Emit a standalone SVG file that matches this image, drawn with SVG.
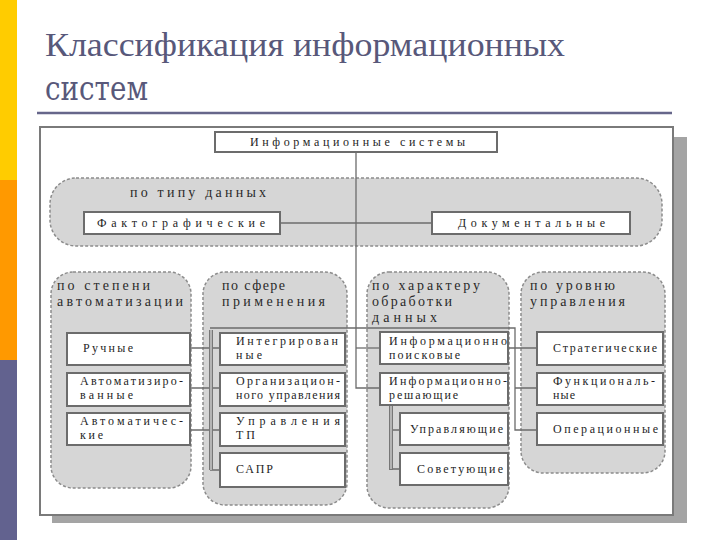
<svg xmlns="http://www.w3.org/2000/svg" width="720" height="540" viewBox="0 0 720 540" font-family="Liberation Serif, DejaVu Serif, serif">
<style>
.title{font-size:34px;fill:#58587a}
.grp{fill:#d6d6d6;stroke:#8c8c8c;stroke-width:1.5;stroke-dasharray:3 2}
.box{fill:#ffffff;stroke:#6c6c6c;stroke-width:2}
.gl{font-size:14px;fill:#2a2a2a}
.bl{font-size:12px;fill:#1e1e1e}
.con{fill:none;stroke:#6c6c6c;stroke-width:1.3}
.dbl{fill:none;stroke:#777;stroke-width:4}
.dbli{fill:none;stroke:#c8c8c8;stroke-width:1.5}
</style>
<rect x="0" y="0" width="720" height="540" fill="#ffffff"/>
<g id="sidebar">
<rect x="0" y="0" width="17" height="180" fill="#ffcc00"/>
<rect x="0" y="180" width="17" height="180" fill="#ff9900"/>
<rect x="0" y="360" width="17" height="180" fill="#62628f"/>
</g>
<g id="title">
<text class="title" x="45" y="56" font-family="Liberation Serif" textLength="520" lengthAdjust="spacingAndGlyphs">Классификация информационных</text>
<text class="title" x="45" y="100" font-family="DejaVu Serif" textLength="103" lengthAdjust="spacingAndGlyphs">систем</text>
<line x1="37" y1="113" x2="672" y2="113" stroke="#66668a" stroke-width="2.5"/>
</g>
<g id="frame">
<rect x="52" y="137" width="635" height="386" fill="#a4a4a4"/>
<rect x="40" y="127" width="633" height="388" fill="#ffffff" stroke="#7a7a7a" stroke-width="2"/>
</g>
<g id="group-type">
<rect class="grp" x="50" y="178" width="612" height="68" rx="26"/>
<text class="gl" x="130" y="197" textLength="136" lengthAdjust="spacing">по типу данных</text>
</g>
<g id="group-auto">
<rect class="grp" x="51" y="272" width="140" height="216" rx="22"/>
<text class="gl" x="57" y="290" textLength="93" lengthAdjust="spacing">по степени</text>
<text class="gl" x="57" y="306" textLength="126" lengthAdjust="spacing">автоматизации</text>
</g>
<g id="group-sphere">
<rect class="grp" x="203" y="272" width="144" height="233" rx="22"/>
<text class="gl" x="222" y="290" textLength="63" lengthAdjust="spacing">по сфере</text>
<text class="gl" x="222" y="306" textLength="103" lengthAdjust="spacing">применения</text>
</g>
<g id="group-proc">
<rect class="grp" x="367" y="272" width="142" height="236" rx="22"/>
<text class="gl" x="372" y="290" textLength="108" lengthAdjust="spacing">по характеру</text>
<text class="gl" x="372" y="306" textLength="80" lengthAdjust="spacing">обработки</text>
<text class="gl" x="372" y="322" textLength="65" lengthAdjust="spacing">данных</text>
</g>
<g id="group-level">
<rect class="grp" x="521" y="272" width="144" height="201" rx="22"/>
<text class="gl" x="530" y="290" textLength="85" lengthAdjust="spacing">по уровню</text>
<text class="gl" x="530" y="306" textLength="95" lengthAdjust="spacing">управления</text>
</g>
<g id="connectors">
<path class="con" d="M356 152 V388 H380"/>
<path class="con" d="M280 223 H432"/>
<path class="con" d="M210 328 H515 V430 H537"/>
<path class="con" d="M508 348 H537 M515 388 H537"/>
<path class="con" d="M356 348 H380"/>
<path class="con" d="M190 348 H220 M190 388 H220 M190 430 H220 M210 470 H220"/>
<path class="dbl" d="M211 330 V470"/>
<path class="dbli" d="M211 330 V470"/>
<path class="con" d="M390 430 H400 M390 469 H400"/>
<path class="dbl" d="M391 405 V470"/>
<path class="dbli" d="M391 406 V469"/>
</g>
<g id="n-main">
<rect class="box" x="215" y="132" width="282" height="20"/>
<text class="bl" x="250" y="146" textLength="215" lengthAdjust="spacing">Информационные системы</text>
</g>
<g id="n-fact">
<rect class="box" x="84" y="212" width="196" height="22"/>
<text class="bl" x="97" y="227" textLength="168" lengthAdjust="spacing">Фактографические</text>
</g>
<g id="n-doc">
<rect class="box" x="432" y="212" width="198" height="22"/>
<text class="bl" x="458" y="227" textLength="147" lengthAdjust="spacing">Документальные</text>
</g>
<g id="n-manual">
<rect class="box" x="67" y="333" width="123" height="32"/>
<text class="bl" x="83" y="352" textLength="50" lengthAdjust="spacing">Ручные</text>
</g>
<g id="n-automated">
<rect class="box" x="67" y="373" width="123" height="33"/>
<text class="bl" x="80" y="385" textLength="103" lengthAdjust="spacing">Автоматизиро-</text>
<text class="bl" x="80" y="399" textLength="53" lengthAdjust="spacing">ванные</text>
</g>
<g id="n-automatic">
<rect class="box" x="67" y="413" width="123" height="32"/>
<text class="bl" x="80" y="425" textLength="103" lengthAdjust="spacing">Автоматичес-</text>
<text class="bl" x="80" y="439" textLength="23" lengthAdjust="spacing">кие</text>
</g>
<g id="n-integr">
<rect class="box" x="220" y="333" width="125" height="32"/>
<text class="bl" x="236" y="345" textLength="102" lengthAdjust="spacing">Интегрирован</text>
<text class="bl" x="236" y="359" textLength="26" lengthAdjust="spacing">ные</text>
</g>
<g id="n-org">
<rect class="box" x="220" y="373" width="125" height="33"/>
<text class="bl" x="236" y="385" textLength="104" lengthAdjust="spacing">Организацион-</text>
<text class="bl" x="236" y="399" textLength="104" lengthAdjust="spacing">ного управления</text>
</g>
<g id="n-tp">
<rect class="box" x="220" y="413" width="125" height="33"/>
<text class="bl" x="236" y="425" textLength="104" lengthAdjust="spacing">Управления</text>
<text class="bl" x="236" y="439" textLength="19" lengthAdjust="spacing">ТП</text>
</g>
<g id="n-sapr">
<rect class="box" x="220" y="453" width="125" height="34"/>
<text class="bl" x="236" y="473" textLength="37" lengthAdjust="spacing">САПР</text>
</g>
<g id="n-search">
<rect class="box" x="380" y="332" width="128" height="32"/>
<text class="bl" x="389" y="345" textLength="118" lengthAdjust="spacing">Информационно</text>
<text class="bl" x="389" y="359" textLength="71" lengthAdjust="spacing">поисковые</text>
</g>
<g id="n-decide">
<rect class="box" x="380" y="373" width="128" height="32"/>
<text class="bl" x="389" y="385" textLength="118" lengthAdjust="spacing">Информационно-</text>
<text class="bl" x="389" y="399" textLength="69" lengthAdjust="spacing">решающие</text>
</g>
<g id="n-control">
<rect class="box" x="400" y="413" width="108" height="32"/>
<text class="bl" x="410" y="433" textLength="93" lengthAdjust="spacing">Управляющие</text>
</g>
<g id="n-advise">
<rect class="box" x="400" y="453" width="108" height="32"/>
<text class="bl" x="417" y="473" textLength="86" lengthAdjust="spacing">Советующие</text>
</g>
<g id="n-strat">
<rect class="box" x="537" y="332" width="126" height="33"/>
<text class="bl" x="553" y="352" textLength="104" lengthAdjust="spacing">Стратегические</text>
</g>
<g id="n-func">
<rect class="box" x="537" y="373" width="126" height="32"/>
<text class="bl" x="553" y="385" textLength="102" lengthAdjust="spacing">Функциональ-</text>
<text class="bl" x="553" y="399" textLength="22" lengthAdjust="spacing">ные</text>
</g>
<g id="n-oper">
<rect class="box" x="537" y="413" width="126" height="32"/>
<text class="bl" x="553" y="433" textLength="105" lengthAdjust="spacing">Операционные</text>
</g>
</svg>
